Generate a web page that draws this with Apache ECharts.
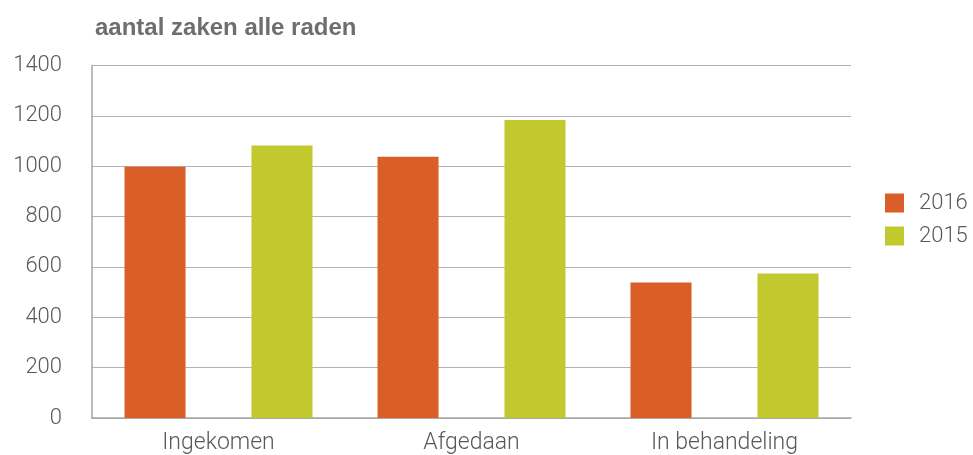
<!DOCTYPE html>
<html><head><meta charset="utf-8">
<script src="https://cdn.jsdelivr.net/npm/echarts@6/dist/echarts.min.js"></script>
<style>html,body{margin:0;padding:0;background:#fff}#c{width:973px;height:455px}</style>
</head><body><div id="c"></div>
<script>
const titleText = 'aantal zaken alle raden';
const categories = ['Ingekomen', 'Afgedaan', 'In behandeling'];
const seriesNames = ['2016', '2015'];
const values2016 = [998, 1038, 538];
const values2015 = [1082, 1184, 574];
const yTicks = { min: 0, max: 1400, interval: 200 };

const labelFont = { fontFamily: 'Roboto', fontWeight: 300, fontSize: 22, color: '#58595b' };
const chart = echarts.init(document.getElementById('c'), null, { renderer: 'canvas' });
chart.setOption({
  animation: false,
  title: {
    text: titleText, left: 90, top: 11,
    textStyle: { fontFamily: 'Liberation Sans, Arial', fontWeight: 'bold', fontSize: 24, color: '#6d6e70' }
  },
  legend: {
    orient: 'vertical', left: 880, top: 187,
    itemWidth: 19, itemHeight: 19, itemGap: 11,
    icon: 'rect',
    textStyle: Object.assign({}, labelFont, { padding: [0, 0, 0, 10] }),
    data: seriesNames
  },
  grid: { left: 92, right: 122, top: 65.5, bottom: 36.7, containLabel: false },
  xAxis: {
    type: 'category', data: categories,
    axisLine: { lineStyle: { color: '#a6a6a6', width: 1.5 } },
    axisTick: { show: false },
    axisLabel: Object.assign({}, labelFont, { fontSize: 23, margin: 14 })
  },
  yAxis: {
    type: 'value', min: yTicks.min, max: yTicks.max, interval: yTicks.interval,
    axisLine: { show: true, lineStyle: { color: '#a6a6a6', width: 1.5 } },
    axisTick: { show: false },
    splitLine: { lineStyle: { color: '#b3b3b3', width: 1.2 } },
    axisLabel: Object.assign({}, labelFont, { margin: 30, padding: [0, 0, 6, 0], formatter: v => String(v) })
  },
  series: [
    { name: seriesNames[0], type: 'bar', data: values2016, itemStyle: { color: '#da5e28' }, barGap: '108%', barCategoryGap: '25.7%' },
    { name: seriesNames[1], type: 'bar', data: values2015, itemStyle: { color: '#c2c92e' }, barGap: '108%', barCategoryGap: '25.7%' }
  ]
});
</script></body></html>
